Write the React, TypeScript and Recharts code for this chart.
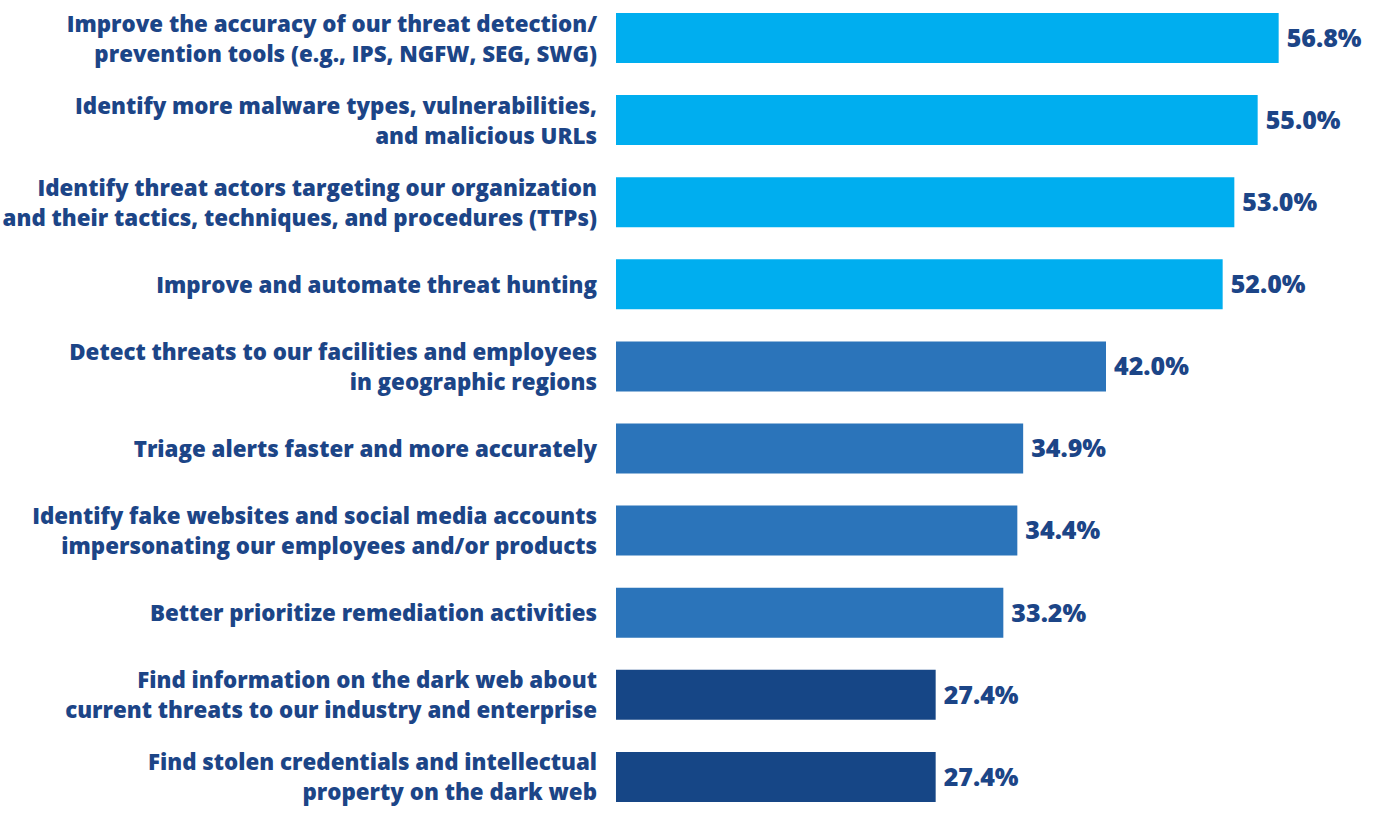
import React from 'react';
import { BarChart, Bar, XAxis, YAxis, Cell, LabelList } from 'recharts';

const categories = [
  'Improve the accuracy of our threat detection/\nprevention tools (e.g., IPS, NGFW, SEG, SWG)',
  'Identify more malware types, vulnerabilities,\nand malicious URLs',
  'Identify threat actors targeting our organization\nand their tactics, techniques, and procedures (TTPs)',
  'Improve and automate threat hunting',
  'Detect threats to our facilities and employees\nin geographic regions',
  'Triage alerts faster and more accurately',
  'Identify fake websites and social media accounts\nimpersonating our employees and/or products',
  'Better prioritize remediation activities',
  'Find information on the dark web about\ncurrent threats to our industry and enterprise',
  'Find stolen credentials and intellectual\nproperty on the dark web',
];

const values = [56.8, 55.0, 53.0, 52.0, 42.0, 34.9, 34.4, 33.2, 27.4, 27.4];

const barColors = [
  '#00aeef', '#00aeef', '#00aeef', '#00aeef',
  '#2b74ba', '#2b74ba', '#2b74ba', '#2b74ba',
  '#164686', '#164686',
];

const TEXT = '#1c4587';
const FONT = '"Open Sans", Lato, sans-serif';

const data = categories.map((name, i) => ({ name, value: values[i] }));

const WrappedTick = ({ x, y, payload }: any) => {
  const lines: string[] = String(payload.value).split('\n');
  const lineHeight = 30;
  const start = -((lines.length - 1) * lineHeight) / 2;
  return (
    <text x={x} y={y} textAnchor="end" fill={TEXT} fontFamily={FONT} fontWeight={800} fontSize={22.3}>
      {lines.map((line, i) => (
        <tspan key={i} x={x} y={y + start + i * lineHeight} dominantBaseline="central">
          {line}
        </tspan>
      ))}
    </text>
  );
};

export default function App() {
  return (
    <div style={{ position: 'absolute', top: 0, left: 0, width: 1374, height: 817, overflow: 'hidden', background: '#fff' }}>
      <div style={{ marginTop: -3 }}>
        <BarChart
          width={1374}
          height={821}
          data={data}
          layout="vertical"
          margin={{ top: 0, right: 58, bottom: 0, left: 0 }}
          barSize={50}
        >
          <XAxis type="number" domain={[0, 60]} hide />
          <YAxis
            type="category"
            dataKey="name"
            width={616}
            axisLine={false}
            tickLine={false}
            tickMargin={13}
            interval={0}
            tick={<WrappedTick />}
          />
          <Bar dataKey="value" isAnimationActive={false}>
            {data.map((d, i) => (
              <Cell key={`c-${i}`} fill={barColors[i]} />
            ))}
            <LabelList
              dataKey="value"
              position="right"
              offset={8}
              formatter={(v: any) => `${Number(v).toFixed(1)}%`}
              fill={TEXT}
              fontFamily={FONT}
              fontWeight={800}
              fontSize={25}
            />
          </Bar>
        </BarChart>
      </div>
    </div>
  );
}
